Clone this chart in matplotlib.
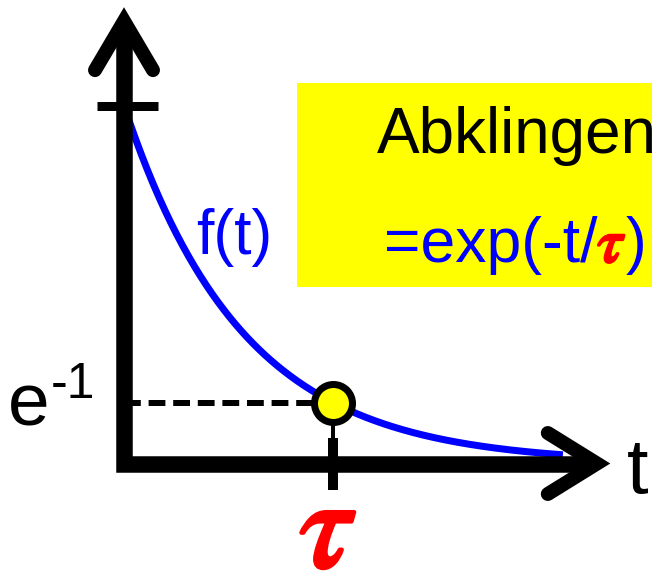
import numpy as np
import matplotlib
matplotlib.use('Agg')
import matplotlib.pyplot as plt
import matplotlib.patheffects as pe
from matplotlib.patches import Rectangle

# decay constant, plotted range and the marked level f(tau)
tau = 1.0
t_end = 2.1
level = np.exp(-1)
t = np.linspace(0, t_end * tau, 300)
f = np.exp(-t / tau)

box_title = 'Abklingen'
formula_parts = ['=exp(-t/', r'$\tau$', ')']
formula_colors = ['#0000ff', '#ff0000', '#0000ff']

W, H, DPI = 652, 571, 100
GAMMA = 1.77          # stretch of the value axis
SANS = 'Liberation Sans'


def fwd(y):
	return np.sign(y) * np.abs(y) ** GAMMA


def inv(y):
	return np.sign(y) * np.abs(y) ** (1.0 / GAMMA)


def px(x, y):
	'''pixel position (from top left) -> figure fraction'''
	return x / W, 1 - y / H


def lw_px(p):
	return p * 72.0 / DPI


fig = plt.figure(figsize=(W / DPI, H / DPI), dpi=DPI)

# yellow box behind the heading
fig.add_artist(Rectangle(px(297, 287), 1 - 297 / W, 204 / H, transform=fig.transFigure,
						 facecolor='#ffff00', edgecolor='none', zorder=0))

# axes box: origin at (124, 463.5), arrow vertices at y=21 and x=597
ax = fig.add_axes([124 / W, 1 - 463.5 / H, 473 / W, 442.5 / H])
ax.set_xlim(0, 473 / 209 * tau)
ax.set_yscale('function', functions=(fwd, inv))
ax.set_ylim(0, inv(1 / 0.809))
ax.axis('off')
ax.patch.set_alpha(0)

# decay curve
ax.plot(t, f, color='#0000ff', lw=lw_px(7), solid_capstyle='butt', zorder=2, clip_on=False)

# guide to e^-1 and the tick at tau
ax.plot([0, tau], [level, level], color='k', lw=lw_px(6), dashes=(2.8, 1.3), zorder=1)
ax.plot([tau, tau], [0, level], color='k', lw=lw_px(4), zorder=1)
ax.plot([tau, tau], [0.0576, -0.060], transform=ax.get_xaxis_transform(), color='k',
		lw=lw_px(10), solid_capstyle='butt', zorder=3, clip_on=False)
ax.plot([-0.057, 0.072], [1, 1], transform=ax.get_yaxis_transform(), color='k',
		lw=lw_px(9), solid_capstyle='butt', zorder=3, clip_on=False)

# marked point
ax.plot([tau], [level], 'o', ms=lw_px(38), mfc='#ffff00', mec='k', mew=lw_px(7), zorder=4,
		clip_on=False)

# the two axes with open arrow heads
ax.plot([0, 0, 0.99], [0.99, 0, 0], transform=ax.transAxes, color='k', lw=lw_px(16.5),
		solid_joinstyle='miter', solid_capstyle='butt', zorder=3, clip_on=False)
ax.plot([-0.0613, 0, 0.0613], [0.889, 1, 0.889], transform=ax.transAxes, color='k',
		lw=lw_px(14), solid_joinstyle='miter', solid_capstyle='round', zorder=3, clip_on=False)
ax.plot([0.896, 1, 0.896], [0.0689, 0, -0.0689], transform=ax.transAxes, color='k',
		lw=lw_px(14), solid_joinstyle='miter', solid_capstyle='round', zorder=3, clip_on=False)

# labels
fig.text(*px(196, 254), 'f(t)', color='#0000ff', fontsize=45, family=SANS, va='baseline')
fig.text(*px(627, 493), 't', color='k', fontsize=56, family=SANS, va='baseline')
fig.text(*px(8, 426), 'e', color='k', fontsize=54, family=SANS, va='baseline')
fig.text(*px(51, 398), '-1', color='k', fontsize=36, family=SANS, va='baseline')
fig.text(*px(328, 567), r'$\tau$', color='#ff0000', fontsize=92, math_fontfamily='stix',
		 ha='center', va='baseline',
		 path_effects=[pe.withStroke(linewidth=3, foreground='#ff0000')])

fig.text(*px(377, 153), box_title, color='k', fontsize=46, family=SANS, va='baseline')

# formula, one coloured piece after another on a common baseline
base = px(0, 262)[1]
prev = fig.text(*px(384, 262), formula_parts[0], color=formula_colors[0], fontsize=45,
				family=SANS, va='baseline')
for part, col in zip(formula_parts[1:], formula_colors[1:]):
	effects = []
	if part.startswith('$'):
		effects = [pe.withStroke(linewidth=2, foreground=col)]
	prev = ax.annotate(part, xy=(1, base), xycoords=(prev, 'figure fraction'),
					   color=col, fontsize=45, family=SANS, math_fontfamily='stix',
					   ha='left', va='baseline', path_effects=effects,
					   annotation_clip=False)

fig.savefig('out.png', dpi=DPI)
